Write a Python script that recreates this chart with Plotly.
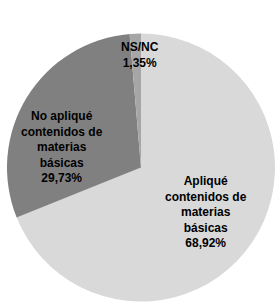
import plotly.graph_objects as go

labels = ["Apliqué contenidos de materias básicas", "No apliqué contenidos de materias básicas", "NS/NC"]
label_lines = [["Apliqué", "contenidos de", "materias", "básicas"],
               ["No apliqué", "contenidos de", "materias", "básicas"],
               ["NS/NC"]]
values = [68.92, 29.73, 1.35]
colors = ["#d9d9d9", "#808080", "#a6a6a6"]

W, H = 276, 305
fig = go.Figure(go.Pie(
    labels=labels, values=values, sort=False, direction="clockwise", rotation=0,
    marker=dict(colors=colors, line=dict(width=0)),
    textinfo="none", hoverinfo="none", showlegend=False,
    domain=dict(x=[7 / W, 275 / W], y=[1 - 302 / H, 1 - 33 / H]),
))

# label placement (paper coords)
label_pos = [(206 / W, 1 - 212 / H), (62 / W, 1 - 147 / H), (140 / W, 1 - 55 / H)]
for lines, v, (x, y) in zip(label_lines, values, label_pos):
    parts = lines + [f"{v:.2f}".replace(".", ",") + "%"]
    txt = "<br>".join("<b>" + p + "</b>" for p in parts)
    fig.add_annotation(x=x, y=y, xref="paper", yref="paper", text=txt,
                       showarrow=False, xanchor="center", yanchor="middle", align="center",
                       font=dict(family="Liberation Sans, Arial", size=12, color="#000000"))

fig.update_layout(width=W, height=H, margin=dict(l=0, r=0, t=0, b=0),
                  paper_bgcolor="white", plot_bgcolor="white")
fig.write_html("out.html", config={"displayModeBar": False},
               post_script="document.body.style.margin='0';")
